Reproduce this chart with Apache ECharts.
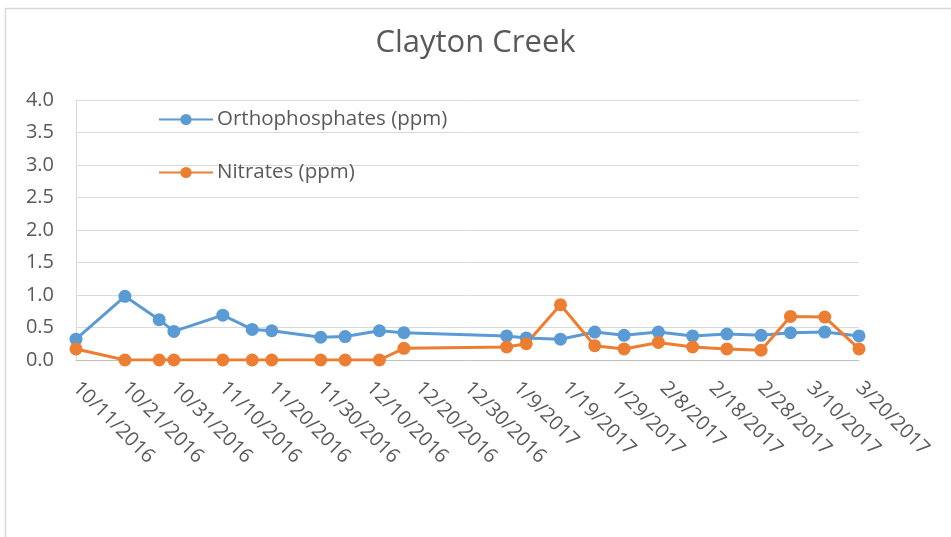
<!DOCTYPE html>
<html>
<head>
<meta charset="utf-8">
<script src="https://cdn.jsdelivr.net/npm/echarts@6/dist/echarts.min.js"></script>
<style>html,body{margin:0;padding:0;background:#fff;}#c{width:951px;height:537px;}</style>
</head>
<body>
<div id="c"></div>
<script>
var title = 'Clayton Creek';
var dates = ['2016-10-11','2016-10-21','2016-10-28','2016-10-31','2016-11-10','2016-11-16','2016-11-20','2016-11-30','2016-12-05','2016-12-12','2016-12-17','2017-01-07','2017-01-11','2017-01-18','2017-01-25','2017-01-31','2017-02-07','2017-02-14','2017-02-21','2017-02-28','2017-03-06','2017-03-13','2017-03-20'];
var orthophosphates = [0.32,0.98,0.62,0.44,0.69,0.47,0.45,0.35,0.36,0.45,0.42,0.37,0.34,0.32,0.43,0.38,0.43,0.37,0.40,0.38,0.42,0.43,0.37];
var nitrates = [0.17,0,0,0,0,0,0,0,0,0,0.18,0.20,0.25,0.85,0.22,0.17,0.27,0.20,0.17,0.15,0.67,0.66,0.17];
var axisStart = '2016-10-11';
var axisEnd = '2017-03-20';
var yTicks = ['0.0','0.5','1.0','1.5','2.0','2.5','3.0','3.5','4.0'];

function toUTC(s){var p=s.split('-');return Date.UTC(+p[0],+p[1]-1,+p[2]);}
var DAY = 86400000;
var t0 = toUTC(axisStart);
function dayOf(s){return Math.round((toUTC(s)-t0)/DAY);}
function lbl(d){var dt=new Date(t0+d*DAY);return (dt.getUTCMonth()+1)+'/'+dt.getUTCDate()+'/'+dt.getUTCFullYear();}

var font = '"Open Sans", "Liberation Sans", sans-serif';
var chart = echarts.init(document.getElementById('c'));
chart.setOption({
  animation:false,
  backgroundColor:'#fff',
  graphic:[{type:'rect',shape:{x:5.5,y:8.5,width:2000,height:1000},style:{fill:'none',stroke:'#d9d9d9',lineWidth:1.5},silent:true}],
  title:{text:title,left:'center',top:28,padding:0,textStyle:{fontFamily:font,fontSize:31,fontWeight:'normal',color:'#595959'}},
  legend:{orient:'vertical',left:158,top:109,padding:0,itemGap:32,itemWidth:54,itemHeight:14,
    textStyle:{fontFamily:font,fontSize:20.5,color:'#595959',padding:[0,0,0,-1]},
    data:['Orthophosphates (ppm)','Nitrates (ppm)']},
  grid:{left:76,right:92,top:100,bottom:177,containLabel:false},
  xAxis:{type:'value',min:0,max:dayOf(axisEnd),interval:10,
    axisLine:{show:true,lineStyle:{color:'#bfbfbf',width:1}},
    axisTick:{show:false},splitLine:{show:false},
    axisLabel:{rotate:-45,margin:25,fontFamily:font,fontSize:20,color:'#595959',formatter:function(v){return lbl(v);}}},
  yAxis:{type:'value',min:0,max:4,interval:0.5,
    axisLine:{show:true,lineStyle:{color:'#d9d9d9'}},axisTick:{show:false},
    splitLine:{lineStyle:{color:'#d9d9d9',width:1}},
    axisLabel:{margin:22,fontFamily:font,fontSize:20,color:'#595959',formatter:function(v){var i=Math.round(v/0.5);return yTicks[i];}}},
  series:[
    {name:'Orthophosphates (ppm)',type:'line',symbol:'circle',symbolSize:13,
      lineStyle:{color:'#5b9bd5',width:3},itemStyle:{color:'#5b9bd5'},
      data:dates.map(function(d,i){return [dayOf(d),orthophosphates[i]];})},
    {name:'Nitrates (ppm)',type:'line',symbol:'circle',symbolSize:13,
      lineStyle:{color:'#ed7d31',width:3},itemStyle:{color:'#ed7d31'},
      data:dates.map(function(d,i){return [dayOf(d),nitrates[i]];})}
  ]
});
</script>
</body>
</html>
